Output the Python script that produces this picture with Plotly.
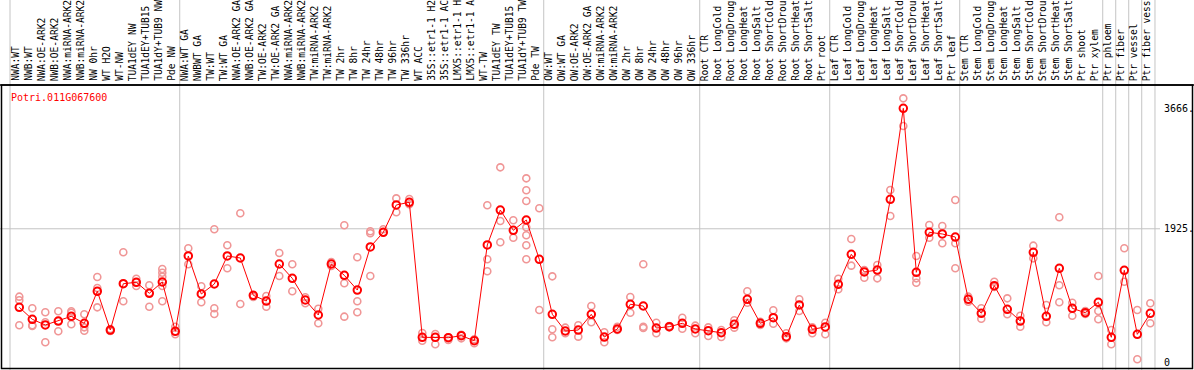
import plotly.graph_objects as go

gene = "Potri.011G067600"

categories = [
    "NWA:WT", "NWB:WT", "NWA:OE-ARK2", "NWB:OE-ARK2", "NWA:miRNA-ARK2", "NWB:miRNA-ARK2",
    "NW 0hr", "WT H2O", "WT-NW", "TUA1dEY NW", "TUA1dEY+TUB15", "TUA1dY+TUB9 NW", "Pde NW",
    "NWA:WT GA", "NWBWT GA", "TW:WT", "TW:WT GA", "NWA:OE-ARK2 GA", "NWB:OE-ARK2 GA",
    "TW:OE-ARK2", "TW:OE-ARK2 GA", "NWA:miRNA-ARK2", "NWB:miRNA-ARK2", "TW:miRNA-ARK2",
    "TW:miRNA-ARK2", "TW 2hr", "TW 8hr", "TW 24hr", "TW 48hr", "TW 96hr", "TW 336hr",
    "WT ACC", "35S::etr1-1 H2O", "35S::etr1-1 ACC", "LMX5::etr1-1 H2O", "LMX5::etr1-1 ACC",
    "WT-TW", "TUA1dEY TW", "TUA1dEY+TUB15", "TUA1dY+TUB9 TW", "Pde TW",
    "OW:WT", "OW:WT GA", "OW:OE-ARK2", "OW:OE-ARK2 GA", "OW:miRNA-ARK2", "OW:miRNA-ARK2",
    "OW 2hr", "OW 8hr", "OW 24hr", "OW 48hr", "OW 96hr", "OW 336hr",
    "Root CTR", "Root LongCold", "Root LongDrought", "Root LongHeat", "Root LongSalt",
    "Root ShortCold", "Root ShortDrought", "Root ShortHeat", "Root ShortSalt", "Ptr root",
    "Leaf CTR", "Leaf LongCold", "Leaf LongDrought", "Leaf LongHeat", "Leaf LongSalt",
    "Leaf ShortCold", "Leaf ShortDrought", "Leaf ShortHeat", "Leaf ShortSalt", "Ptr leaf",
    "Stem CTR", "Stem LongCold", "Stem LongDrought", "Stem LongHeat", "Stem LongSalt",
    "Stem ShortCold", "Stem ShortDrought", "Stem ShortHeat", "Stem ShortSalt", "Ptr shoot",
    "Ptr xylem", "Ptr phloem", "Ptr fiber", "Ptr vessel", "Ptr fiber vessel",
]

means = [
    790, 617, 535, 592, 660, 559, 1022, 462, 1131, 1152, 993, 1156, 444,
    1532, 983, 1127, 1532, 1503, 964, 881, 1416, 1209, 896, 679, 1416, 1253, 1040,
    1662, 1874, 2269, 2308, 357, 357, 351, 380, 308, 1691, 2196, 1903, 2052, 1484,
    689, 448, 462, 689, 361, 477, 834, 809, 491, 510, 559, 477,
    452, 423, 545, 906, 559, 640, 366, 824, 473, 506,
    1123, 1556, 1301, 1329, 2351, 3666, 1296, 1874, 1850, 1806,
    906, 704, 1103, 762, 592, 1585, 660, 1354, 776, 712, 863,
    357, 1325, 400, 704,
]

replicates = [
    [944, 892, 530], [776, 530, 520], [718, 574, 285], [733, 444, 592], [733, 712, 545],
    [689, 501, 452], [1228, 1069, 790], [477, 452, 448], [1585, 877, 1131], [1204, 1098, 1152],
    [1108, 799, 1001], [1344, 1290, 1233, 1098, 877], [510, 400],
    [1643, 1412], [1094, 863], [1918, 776, 694], [1686, 1354], [2149, 838], [958, 939],
    [954, 799], [1575, 1243], [1412, 1022], [935, 848], [770, 559], [1445, 1387],
    [1975, 1137, 655], [1513, 877, 718], [1889, 1860, 1243], [1918, 1874], [2365, 2163],
    [2355, 2279], [419, 308], [405, 256], [357, 318], [394, 342], [328, 270],
    [2264, 1484, 1311], [2813, 2037, 1730], [2048, 1796],
    [2654, 2481, 2326, 1946, 1831, 1686, 1484], [2221, 751],
    [1238, 473, 357], [496, 415], [530, 366], [809, 574], [429, 285], [510, 462],
    [939, 712], [1412, 510, 491], [568, 415], [520, 501], [640, 481], [525, 415],
    [501, 376], [462, 361], [603, 496], [1022, 857], [582, 535], [747, 553],
    [415, 342], [906, 737], [501, 415], [568, 400],
    [1204, 1051], [1777, 1392], [1329, 1218], [1402, 1209], [2485, 2110], [3810, 3410],
    [1532, 1209, 1146], [1980, 1796], [1965, 1715], [2341, 1715, 1354],
    [944, 871], [776, 626], [1160, 1084], [920, 689], [669, 510], [1681, 1498],
    [824, 574], [2091, 1108, 863], [857, 669], [737, 694], [1243, 737, 617],
    [462, 256], [1643, 1160], [751, 39], [848, 559],
]

group_starts = [0, 13, 41, 53, 63, 73, 84, 85, 86, 87]

y_tick_values = [3666, 1925, 0]
y_tick_text = ["3666.", "1925.", "0"]

# ---------------------------------------------------------------------------
W, H = 1194, 370
PX0, PXSTEP = 19.3, 13.0          # pixel of first category and spacing
Y0PX, VPP = 362.0, 14.45          # pixel of value 0, value per pixel
HEADER_PX = 85

xr = [(0 - PX0) / PXSTEP, (W - PX0) / PXSTEP]
yr = [(Y0PX - H) * VPP, Y0PX * VPP]

def px_to_x(px):
    return (px - PX0) / PXSTEP

def py_to_paper(py):
    return (H - py) / H

idx = list(range(len(categories)))

rep_x, rep_y = [], []
for i, vals in enumerate(replicates):
    for v in vals:
        rep_x.append(i)
        rep_y.append(v)

fig = go.Figure()

fig.add_trace(go.Scatter(
    x=rep_x, y=rep_y, mode="markers",
    marker=dict(symbol="circle-open", size=7, color="rgb(240,150,150)",
                line=dict(width=1.6, color="rgb(240,150,150)")),
    hoverinfo="skip", showlegend=False, cliponaxis=False,
))

fig.add_trace(go.Scatter(
    x=idx, y=means, mode="lines+markers",
    line=dict(color="#ff0000", width=1),
    marker=dict(symbol="circle-open", size=7.5, color="#ff0000",
                line=dict(width=2, color="#ff0000")),
    text=categories, showlegend=False, cliponaxis=False,
))

shapes = []
grid_col = "#c4c4c4"
vlines = [s - 0.66 for s in group_starts] + [len(categories) - 1 + 0.36]
vlines[0] = px_to_x(10)
for gx in vlines:
    shapes.append(dict(type="line", xref="x", yref="paper", x0=gx, x1=gx, y0=0, y1=1,
                       line=dict(color=grid_col, width=1), layer="below"))
# horizontal grid line at middle tick
shapes.append(dict(type="line", xref="paper", yref="y", x0=0, x1=1160 / W,
                   y0=y_tick_values[1], y1=y_tick_values[1],
                   line=dict(color=grid_col, width=1), layer="below"))
# frame
shapes.append(dict(type="line", xref="paper", yref="paper", x0=0, x1=1,
                   y0=py_to_paper(HEADER_PX), y1=py_to_paper(HEADER_PX),
                   line=dict(color="black", width=1.5)))
shapes.append(dict(type="rect", xref="paper", yref="paper", x0=1.5 / W, x1=(W - 1.5) / W,
                   y0=1.5 / H, y1=py_to_paper(HEADER_PX),
                   line=dict(color="black", width=1.5), fillcolor="rgba(0,0,0,0)"))

annotations = []
mono = "DejaVu Sans Mono"
for i, c in enumerate(categories):
    annotations.append(dict(
        x=i, y=py_to_paper(83), xref="x", yref="paper", text=c, textangle=-90,
        showarrow=False, xanchor="center", yanchor="bottom", xshift=-4,
        font=dict(family=mono, size=9.6, color="black"),
    ))

annotations.append(dict(
    x=9 / W, y=py_to_paper(97), xref="paper", yref="paper", text=gene,
    showarrow=False, xanchor="left", yanchor="middle",
    font=dict(family=mono, size=10, color="#ff0000"),
))

for v, t in zip(y_tick_values, y_tick_text):
    annotations.append(dict(
        x=1162 / W, y=v, xref="paper", yref="y", text=t, showarrow=False,
        xanchor="left", yanchor="middle", font=dict(family=mono, size=10, color="black"),
    ))

fig.update_layout(
    width=W, height=H, margin=dict(l=0, r=0, t=0, b=0),
    paper_bgcolor="white", plot_bgcolor="white",
    xaxis=dict(range=xr, visible=False, showgrid=False, zeroline=False, fixedrange=True),
    yaxis=dict(range=yr, visible=False, showgrid=False, zeroline=False, fixedrange=True),
    shapes=shapes, annotations=annotations, showlegend=False,
)

fig.write_html(
    "out.html",
    config={"displayModeBar": False},
    post_script="document.body.style.margin='0';document.body.style.overflow='hidden';",
)
